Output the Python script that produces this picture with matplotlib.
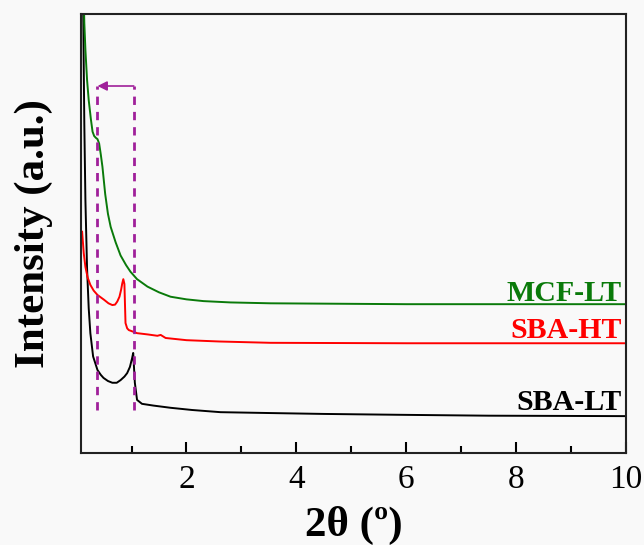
import matplotlib.pyplot as plt
import numpy as np

plt.rcParams['font.family'] = ['Liberation Serif', 'DejaVu Serif']

# SBA-LT (black)
x_lt = np.array([0.09, 0.12, 0.14, 0.16, 0.19, 0.22, 0.25, 0.30, 0.38, 0.44, 0.49,
                 0.57, 0.65, 0.73, 0.80, 0.87, 0.92, 0.97, 1.01, 1.03, 1.06,
                 1.10, 1.19, 1.40, 1.71, 2.1, 2.62, 3.53, 4.5, 5.9, 7.5, 10.0])
y_lt = np.array([140, 100, 75, 57.6, 42, 33, 27.3, 22.0, 18.9, 17.8, 17.1,
                 16.4, 16.0, 16.0, 16.6, 17.4, 18.2, 19.6, 21.6, 22.8, 16.0,
                 12.1, 11.2, 10.8, 10.3, 9.8, 9.3, 9.1, 8.9, 8.7, 8.5, 8.4])

# SBA-HT (red)
x_ht = np.array([0.10, 0.13, 0.16, 0.20, 0.25, 0.31, 0.38, 0.50, 0.58, 0.65,
                 0.70, 0.74, 0.78, 0.81, 0.83, 0.85, 0.87, 0.88, 0.89, 0.92,
                 0.95, 1.10, 1.30, 1.47, 1.53, 1.62, 2.0, 2.6, 3.53, 6.0, 10.0])
y_ht = np.array([50.4, 45.5, 42.4, 40.0, 38.3, 37.0, 36.0, 34.9, 34.1, 33.7,
                 33.8, 34.5, 35.6, 37.2, 38.6, 39.6, 38.5, 34.0, 29.6, 28.4,
                 28.0, 27.3, 27.0, 26.7, 26.9, 26.2, 25.7, 25.4, 25.1, 25.0, 25.0])

# MCF-LT (green)
x_mcf = np.array([0.12, 0.14, 0.16, 0.19, 0.22, 0.26, 0.29, 0.32, 0.35, 0.38,
                  0.41, 0.44, 0.47, 0.52, 0.57, 0.62, 0.71, 0.80, 0.90, 0.98,
                  1.10, 1.29, 1.50, 1.71, 2.0, 2.31, 2.8, 3.53, 6.0, 10.0])
y_mcf = np.array([110, 98, 91.8, 85, 80.4, 76.0, 73.2, 72.2, 71.8, 71.5,
                  70.5, 68.0, 65.2, 59.0, 54.5, 51.5, 48.0, 45.0, 42.8, 41.3,
                  39.6, 37.9, 36.6, 35.6, 35.0, 34.6, 34.3, 34.1, 33.9, 33.9])

labels = ['MCF-LT', 'SBA-HT', 'SBA-LT']
label_y = [34.6, 26.2, 9.9]
colors = ['#0a7a0a', '#ff0000', '#000000']

fig = plt.figure(figsize=(6.44, 5.45), dpi=100, facecolor='#f9f9f9')
ax = fig.add_axes([0.1258, 0.1688, 0.8462, 0.8055])
ax.set_facecolor('#f9f9f9')

ax.plot(x_lt, y_lt, color='#000000', lw=1.4)
ax.plot(x_ht, y_ht, color='#ff0000', lw=1.4)
ax.plot(x_mcf, y_mcf, color='#0a7a0a', lw=1.4)

for lab, yy, c in zip(labels, label_y, colors):
    ax.text(9.92, yy, lab, color=c, fontsize=21.5, fontweight='bold',
            ha='right', va='baseline')

# shift marker
purple = '#a0209a'
ax.vlines([0.38, 1.04], 9.8, 83.6, colors=purple, linestyles=(0, (3, 2.5)), lw=2)
ax.annotate('', xy=(0.38, 83.6), xytext=(1.04, 83.6),
            arrowprops=dict(arrowstyle='-|>', color=purple, lw=1.2,
                            mutation_scale=14, shrinkA=0, shrinkB=0))

ax.set_xlim(0.08, 10)
ax.set_ylim(0, 100)
ax.set_xticks([2, 4, 6, 8, 10])
ax.set_xticks([1, 3, 5, 7, 9], minor=True)
ax.set_yticks([])
ax.tick_params(axis='x', which='major', direction='in', length=8, width=1.5,
               labelsize=24, pad=8)
ax.tick_params(axis='x', which='minor', direction='in', length=5, width=1.5)
for s in ax.spines.values():
    s.set_linewidth(1.5)
    s.set_color('#222222')

ax.set_xlabel('2θ (º)', fontsize=31, fontweight='bold', labelpad=8)
ax.set_ylabel('Intensity (a.u.)', fontsize=31, fontweight='bold', labelpad=20)

fig.savefig('out.png', dpi=100, facecolor=fig.get_facecolor())
